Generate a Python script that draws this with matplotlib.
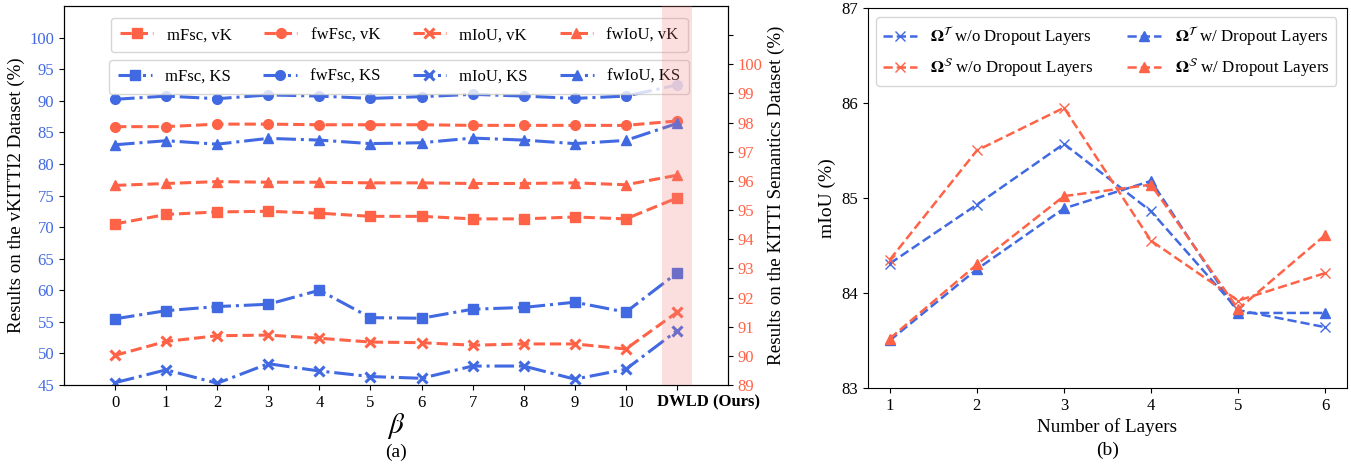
import numpy as np
import matplotlib
matplotlib.use("Agg")
import matplotlib.pyplot as plt
import matplotlib.transforms as mtransforms

plt.rcParams["font.family"] = ["Liberation Serif", "DejaVu Serif"]
plt.rcParams["mathtext.fontset"] = "stix"

# ---- (a) data: beta = 0..10 plus DWLD (Ours)
beta_labels = ["0", "1", "2", "3", "4", "5", "6", "7", "8", "9", "10", "DWLD (Ours)"]
# vKITTI2 (left axis)
mfsc_vk = [70.5, 72.0, 72.4, 72.5, 72.2, 71.7, 71.7, 71.3, 71.3, 71.6, 71.3, 74.6]
fwfsc_vk = [85.9, 85.9, 86.3, 86.3, 86.2, 86.2, 86.2, 86.1, 86.1, 86.1, 86.1, 86.8]
miou_vk = [49.7, 51.9, 52.8, 52.9, 52.4, 51.8, 51.7, 51.3, 51.5, 51.5, 50.7, 56.5]
fwiou_vk = [76.6, 76.9, 77.2, 77.1, 77.1, 77.0, 77.0, 76.9, 76.9, 77.0, 76.7, 78.2]
# KITTI Semantics (right axis)
mfsc_ks = [91.27, 91.55, 91.69, 91.77, 92.25, 91.31, 91.29, 91.60, 91.66, 91.84, 91.50, 92.84]
fwfsc_ks = [98.80, 98.91, 98.82, 98.95, 98.91, 98.83, 98.89, 98.97, 98.91, 98.83, 98.91, 99.29]
miou_ks = [89.08, 89.52, 89.06, 89.73, 89.48, 89.29, 89.23, 89.65, 89.65, 89.20, 89.54, 90.86]
fwiou_ks = [97.24, 97.38, 97.26, 97.46, 97.40, 97.28, 97.31, 97.47, 97.40, 97.28, 97.39, 97.97]

# ---- (b) data
layers = [1, 2, 3, 4, 5, 6]
t_wo = [84.31, 84.93, 85.57, 84.86, 83.82, 83.64]
s_wo = [84.35, 85.50, 85.95, 84.55, 83.92, 84.21]
t_w = [83.50, 84.25, 84.89, 85.18, 83.79, 83.79]
s_w = [83.52, 84.30, 85.02, 85.14, 83.83, 84.61]

blue = "royalblue"
red = "tomato"

fig = plt.figure(figsize=(13.51, 4.66), dpi=100)
ax1 = fig.add_axes([64/1351, 81/466, 664/1351, 379/466])
ax2 = ax1.twinx()
ax3 = fig.add_axes([868/1351, 78/466, 479/1351, 380/466])

xs = np.arange(len(beta_labels))
kw = dict(lw=2.2, ms=7)
h1 = ax1.plot(xs, mfsc_vk, "--", marker="s", color=red, label="mFsc, vK", **kw)
h2 = ax1.plot(xs, fwfsc_vk, "--", marker="o", color=red, label="fwFsc, vK", **kw)
h3 = ax1.plot(xs, miou_vk, "--", marker="x", color=red, label="mIoU, vK", mew=2.2, **kw)
h4 = ax1.plot(xs, fwiou_vk, "--", marker="^", color=red, label="fwIoU, vK", **kw)
g1 = ax2.plot(xs, mfsc_ks, "-.", marker="s", color=blue, label="mFsc, KS", **kw)
g2 = ax2.plot(xs, fwfsc_ks, "-.", marker="o", color=blue, label="fwFsc, KS", **kw)
g3 = ax2.plot(xs, miou_ks, "-.", marker="x", color=blue, label="mIoU, KS", mew=2.2, **kw)
g4 = ax2.plot(xs, fwiou_ks, "-.", marker="^", color=blue, label="fwIoU, KS", **kw)

ax1.set_xlim(-1, 12)
ax1.set_ylim(45, 105)
ax1.set_yticks(range(45, 101, 5))
ax2.set_ylim(89, 102)
ax2.set_yticks(range(89, 102))
ax2.set_yticklabels([str(v) if v <= 100 else "" for v in range(89, 102)])
ax1.set_xticks(xs)
ax1.set_xticklabels(beta_labels)
ax1.tick_params(axis="both", labelsize=12)
ax1.tick_params(axis="y", labelcolor=blue)
ax2.tick_params(axis="y", labelsize=12, labelcolor=red)
last = ax1.get_xticklabels()[-1]
last.set_fontweight("bold")
last.set_horizontalalignment("left")
last.set_transform(last.get_transform() + mtransforms.ScaledTranslation(-0.2, 0, fig.dpi_scale_trans))
ax1.set_ylabel("Results on the vKITTI2 Dataset (%)", fontsize=13.7, labelpad=3)
ax2.set_ylabel("Results on the KITTI Semantics Dataset (%)", fontsize=13.7, labelpad=4)
ax1.set_xlabel(r"$\beta$", fontsize=21, labelpad=0)
fig.text(396/1351, 1 - 452/466, "(a)", fontsize=14, ha="center", va="center")

leg_kw = dict(loc="upper center", ncol=4, borderaxespad=0, fontsize=12,
              columnspacing=1.95, handlelength=2.0, borderpad=0.55)
leg1 = ax2.legend(handles=h1 + h2 + h3 + h4, bbox_to_anchor=(0.505, 0.968), **leg_kw)
ax2.add_artist(leg1)
ax2.legend(handles=g1 + g2 + g3 + g4, bbox_to_anchor=(0.505, 0.858), **leg_kw)
ax2.axvspan(10.7, 11.3, color="lightcoral", alpha=0.25, lw=0, zorder=10)

# ---- (b)
kw_b = dict(lw=1.8, ms=7)
ax3.plot(layers, t_wo, "--", marker="x", color=blue, label=r"$\mathbf{\Omega}^{\mathcal{T}}$ w/o Dropout Layers", **kw_b)
ax3.plot(layers, s_wo, "--", marker="x", color=red, label=r"$\mathbf{\Omega}^{\mathcal{S}}$ w/o Dropout Layers", **kw_b)
ax3.plot(layers, t_w, "--", marker="^", color=blue, label=r"$\mathbf{\Omega}^{\mathcal{T}}$ w/ Dropout Layers", **kw_b)
ax3.plot(layers, s_w, "--", marker="^", color=red, label=r"$\mathbf{\Omega}^{\mathcal{S}}$ w/ Dropout Layers", **kw_b)
ax3.set_xlim(0.75, 6.25)
ax3.set_ylim(83, 87)
ax3.set_yticks([83, 84, 85, 86, 87])
ax3.set_xticks(layers)
ax3.tick_params(axis="both", labelsize=12)
ax3.set_xlabel("Number of Layers", fontsize=13.8, labelpad=3)
ax3.set_ylabel("mIoU (%)", fontsize=14)
ax3.legend(loc="upper left", ncol=2, fontsize=12.2, bbox_to_anchor=(0.017, 0.975),
           borderaxespad=0, columnspacing=2.0)
fig.text(1108/1351, 1 - 450/466, "(b)", fontsize=14, ha="center", va="center")

fig.savefig("out.png", dpi=100)
